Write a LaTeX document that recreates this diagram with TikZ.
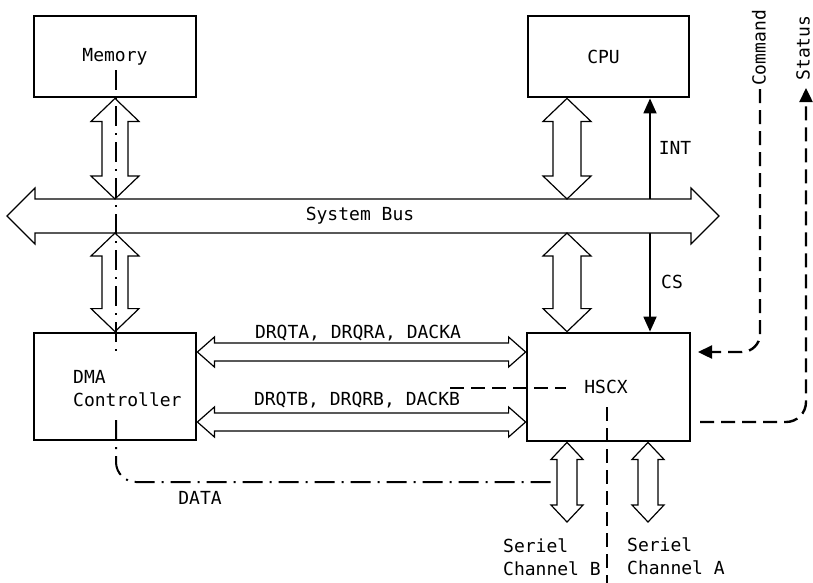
\documentclass[tikz,border=0pt]{standalone}
\usepackage{fontspec}
\newfontfamily\lblfont{DejaVu Sans Mono}
\usetikzlibrary{arrows.meta,calc}
\tikzset{
  lbl/.style={font=\lblfont\fontsize{18}{23}\selectfont, inner sep=0pt},
  box/.style={draw, line width=2.8pt, inner sep=0pt, lbl},
  biarrow/.style={draw, fill=white, line width=1.2pt, line join=miter},
  sig/.style={line width=1.8pt},
  dashdot/.style={line width=2pt, dash pattern=on 20pt off 7pt on 2pt off 7pt},
  dsh/.style={line width=2.4pt, dash pattern=on 14pt off 7pt},
  headtip/.tip={Triangle[length=15pt,width=13pt]}
}
\newcommand{\vbi}[5]{\draw[biarrow] let \p1=(#1), \p2=(#2) in
  (\x1,\y1) -- (\x1+#4,\y1-#5) -- (\x1+#3,\y1-#5) -- (\x1+#3,\y2+#5) -- (\x1+#4,\y2+#5) -- (\x1,\y2)
  -- (\x1-#4,\y2+#5) -- (\x1-#3,\y2+#5) -- (\x1-#3,\y1-#5) -- (\x1-#4,\y1-#5) -- cycle;}
\newcommand{\hbi}[5]{\draw[biarrow] let \p1=(#1), \p2=(#2) in
  (\x1,\y1) -- (\x1+#5,\y1+#4) -- (\x1+#5,\y1+#3) -- (\x2-#5,\y1+#3) -- (\x2-#5,\y1+#4) -- (\x2,\y1)
  -- (\x2-#5,\y1-#4) -- (\x2-#5,\y1-#3) -- (\x1+#5,\y1-#3) -- (\x1+#5,\y1-#4) -- cycle;}
\begin{document}
\begin{tikzpicture}[x=1pt,y=-1pt]
\useasboundingbox (0,0) rectangle (813,582);
% boxes
\node[box, minimum width=162pt, minimum height=81pt] (mem) at (115,56.5) {Memory};
\node[box, minimum width=161pt, minimum height=81pt] (cpu) at (608.5,56.5) {\hspace*{-10pt}CPU};
\node[box, minimum width=162pt, minimum height=107pt] (dma) at (115,386.5) {};
\node[box, minimum width=163pt, minimum height=108pt] (hscx) at (608.5,387) {\hspace*{-5pt}HSCX};
% helper coordinates
\coordinate (busL) at (7,216);
\coordinate (busR) at (719,216);
\coordinate (busN) at (0,199);
\coordinate (busS) at (0,233);
\coordinate (colC) at (567,0);
\coordinate (colI) at (650,0);
\coordinate (colA) at (648,0);
\coordinate (rowA) at (0,352);
\coordinate (rowB) at (0,422);
\coordinate (chBend) at (567,522);
\coordinate (chAend) at (648,522);
% INT / CS
\draw[sig, {headtip}-{headtip}] (colI |- cpu.south) -- (colI |- hscx.north);
% system bus
\hbi{busL}{busR}{17pt}{28pt}{28pt}
\node[lbl] (buslbl) at (360,216) {System Bus};
% vertical bus arrows
\vbi{mem.south}{mem.south |- busN}{13pt}{24pt}{23pt}
\vbi{colC |- cpu.south}{colC |- busN}{14pt}{24pt}{23pt}
\vbi{mem.south |- busS}{dma.north}{13pt}{24pt}{23pt}
\vbi{colC |- busS}{colC |- hscx.north}{14pt}{24pt}{23pt}
% serial channel arrows
\vbi{colC |- hscx.south}{chBend}{10pt}{16pt}{17pt}
\vbi{colA |- hscx.south}{chAend}{10pt}{16pt}{17pt}
% DMA <-> HSCX
\hbi{dma.east |- rowA}{hscx.west |- rowA}{9pt}{15pt}{17pt}
\hbi{dma.east |- rowB}{hscx.west |- rowB}{9pt}{15pt}{17pt}
\node[lbl] (lblA) at (358,333) {DRQTA, DRQRA, DACKA};
\node[lbl] (lblB) at (357,400) {DRQTB, DRQRB, DACKB};
% DMA text
\node[lbl, align=left, anchor=west] (dmatxt) at (73,388.5) {DMA\\Controller};
% data path (dash-dot)
\coordinate (ddA) at (116,70);
\coordinate (ddB) at (116,356);
\coordinate (ddC) at (116,420);
\coordinate (ddE) at (556,482);
\draw[dashdot] (ddA) -- (ddB);
\draw[dashdot, rounded corners=20pt] (ddC) |- (ddE);
\node[lbl] (datalbl) at (200,498) {DATA};
% HSCX dashed lines
\coordinate (hdA) at (450,388);
\coordinate (hdB) at (566,388);
\coordinate (hdC) at (607,407);
\coordinate (hdD) at (607,586);
\draw[dsh] (hdA) -- (hdB);
\draw[dsh] (hdC) -- (hdD);
% command / status
\node[lbl, rotate=90] (cmd) at (759,48) {Command};
\node[lbl, rotate=90] (sta) at (803,48) {Status};
\coordinate (cmdS) at (760,89);
\coordinate (cmdK) at (760,352);
\coordinate (cmdE) at (698,352);
\draw[dsh, -{Triangle[length=14pt,width=13pt]}, rounded corners=18pt] (cmdS) -- (cmdK) -- (cmdE);
\coordinate (staS) at (700,422);
\coordinate (staK) at (806,422);
\coordinate (staE) at (806,88);
\draw[dsh, -{Triangle[length=14pt,width=13pt]}, rounded corners=20pt] (staS) -- (staK) -- (staE);
% labels
\node[lbl] (intlbl) at (675,148) {INT};
\node[lbl] (cslbl) at (672,282) {CS};
\node[lbl, align=left, anchor=west] (serB) at (503,557.5) {Seriel\\Channel B};
\node[lbl, align=left, anchor=west] (serA) at (627,556.5) {Seriel\\Channel A};
\end{tikzpicture}
\end{document}
